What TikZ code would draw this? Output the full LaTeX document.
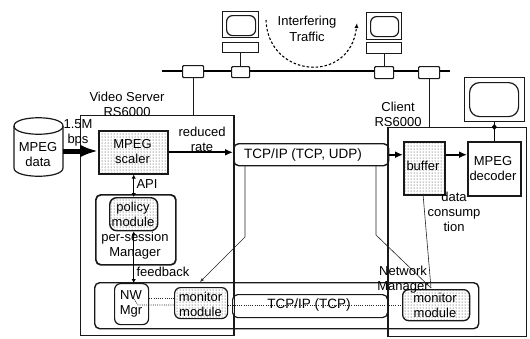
\documentclass[tikz,border=0pt]{standalone}
\usepackage{fontspec}
\setmainfont{Liberation Sans}
\usetikzlibrary{arrows.meta,calc,patterns}
\tikzset{
 x=1pt,y=-1pt,
 lbl/.style={inner sep=0pt,align=center,font=\fontsize{13}{15}\selectfont,text=black},
 plain/.style={draw=black!90,line width=1.2pt,inner sep=0pt,anchor=north west},
 rbox/.style={plain,rounded corners=5pt},
 dots/.style={pattern color=black!85},
 tap/.style={plain,fill=white,rounded corners=1pt},
 thin link/.style={draw=black!85,line width=.6pt},
 strong/.style={draw=black,line width=2pt,-{Latex[length=8pt,width=7pt]}},
 both/.style={draw=black,line width=1.3pt,{Latex[length=4pt,width=4.5pt]}-{Latex[length=4pt,width=4.5pt]}},
 dotted link/.style={draw=black!85,line width=.7pt,dash pattern=on 1pt off 1.2pt},
}
\newcommand{\bx}[6][plain]{\node[#1,minimum width=#4pt-#2pt,minimum height=#5pt-#3pt] (#6) at (#2,#3) {};}
\begin{document}
\begin{tikzpicture}
\useasboundingbox (0,0) rectangle (530,338);
% bus
\coordinate (busL) at (162,71); \coordinate (busR) at (450,71);
\draw[draw=black,line width=1.4pt] (busL) -- (busR);
\bx[tap]{182}{65}{203}{77}{t1}
\bx[tap]{231}{66}{249}{77}{t2}
\bx[tap]{374}{66}{393}{78}{t3}
\bx[tap]{418}{66}{439}{78}{t4}
% computers
\bx{222}{11}{258}{37}{m1}
\bx[rbox,rounded corners=6pt]{226}{15}{255}{35}{s1}
\bx{222}{42}{258}{52}{b1}
\bx{366}{12}{401}{39}{m2}
\bx[rbox,rounded corners=6pt]{370}{16}{398}{36}{s2}
\bx{366}{42}{401}{53}{b2}
\draw[plain] (b1.south) -- (t2.north);
\draw[plain] (b2.south) -- (t3.north);
\coordinate (arcA) at (266,20); \coordinate (arcB) at (357,23);
\draw[draw=black,line width=1.1pt,dash pattern=on 2.5pt off 2pt,-{Latex[length=5pt,width=4pt]}] (arcA) .. controls (268,78) and (350,85) .. (arcB);
\node[lbl] (traffic) at (307,29) {Interfering\\[1pt]Traffic};
% server + client
\bx{80}{115}{233}{335}{server}
\bx{388}{127}{526}{336}{client}
\draw[plain] (t1.south) -- (t1.south|-server.north);
\draw[plain] (t4.south) -- (t4.south|-client.north);
\node[lbl] (vs) at (127,104.5) {Video Server\\RS6000};
\node[lbl] (cl) at (398,114.5) {Client\\RS6000};
% display
\bx{464}{77}{524}{121}{disp}
\bx[rbox,rounded corners=10pt]{469}{82}{518}{116}{scr}
% cylinder
\coordinate (cylE) at (63,151);
\draw[draw=black!90,line width=1.2pt,fill=white] (14,126) .. controls (14,115) and (63,115) .. (63,126) -- (63,168) .. controls (63,179) and (14,179) .. (14,168) -- cycle;
\draw[draw=black!90,line width=1.2pt] (14,126) .. controls (14,137) and (63,137) .. (63,126);
\node[lbl] (cyllbl) at (38,155) {MPEG\\data};
% boxes
\bx[plain,line width=1.6pt,pattern=dots,dots]{98}{130}{167}{173}{scaler}
\bx[rbox,line width=1.7pt]{95}{194}{175}{264}{psm}
\bx[rbox,rounded corners=7pt,line width=1.4pt,pattern=dots,dots]{109}{197}{157}{230}{policy}
\bx[rbox,line width=1.4pt]{94}{282}{478}{328}{nm}
\bx[rbox,fill=white,rounded corners=6pt]{114}{283}{148}{324}{nw}
\bx[rbox,pattern=dots,dots,rounded corners=6pt]{174}{287}{227}{318}{mon1}
\bx[rbox,fill=white]{232}{294}{387}{317}{tcp2}
\bx[rbox,line width=1.4pt,fill=white]{233}{143}{388}{165}{tcp1}
\bx[plain,line width=1.6pt,pattern=dots,dots]{403}{141}{444}{194}{buffer}
\bx[plain,line width=1.6pt]{467}{141}{520}{195}{decoder}
\bx[rbox,rounded corners=6pt,pattern=dots,dots,line width=1.3pt]{402}{289}{469}{320}{mon2}
\draw[plain] (client.north west) -- (client.south west);
\draw[plain] (server.north east) -- (server.south east);
% connectors
\draw[draw=black,line width=5pt,-{Latex[length=18pt,width=13pt]}] (cylE) -- (scaler.west|-cylE);
\draw[strong] (scaler.east) -- (tcp1.west|-scaler.east);
\draw[strong] (tcp1.east) -- (tcp1.east-|buffer.west);
\draw[strong] (buffer.east|-tcp1.east) -- (decoder.west|-tcp1.east);
\draw[draw=black,line width=1.3pt] (decoder.north) -- (decoder.north|-disp.south);
\coordinate (junc) at (decoder.north|-client.north);
\fill[black] (junc) +(-2.5,0) -- +(0,-3) -- +(2.5,0) -- +(0,3) -- cycle;
\draw[both] (scaler.south-|policy.north) -- (policy.north);
\draw[both] (policy.south) -- (policy.south|-nw.north);
\coordinate (tA) at (245,165); \coordinate (tB) at (245,237); \coordinate (tC) at (200,282);
\draw[thin link,-{Latex[length=4pt,width=3pt]}] (tA) -- (tB) -- (tC);
\coordinate (uA) at (376,165); \coordinate (uB) at (376,235); \coordinate (uC) at (431,288);
\draw[thin link] (uA) -- (uB) -- (uC);
\coordinate (vA) at (423,194);
\draw[thin link] (vA) -- (uC);
\draw[dotted link] (nw.east|-0,298) -- (mon1.west|-0,298);
\draw[dotted link] (134,299) -- (138,305) -- (mon1.west|-0,305);
\draw[dotted link] (mon1.east|-0,305) -- (mon2.west|-0,305);
% labels
\node[lbl] at (78,133) {1.5M\\bps};
\node[lbl] at (132.5,152) {MPEG\\scaler};
\node[lbl] at (202,139) {reduced\\rate};
\node[lbl,font=\fontsize{13.5}{15}\selectfont] at (303,155) {TCP/IP (TCP, UDP)};
\node[lbl] at (147,184) {API};
\node[lbl] at (133,214) {policy\\module};
\node[lbl] at (135,246) {per-session\\Manager};
\node[lbl] at (163,272) {feedback};
\node[lbl] at (131,303.5) {NW\\Mgr};
\node[lbl] at (200.5,304) {monitor\\module};
\node[lbl,font=\fontsize{13.5}{15}\selectfont] at (309,305) {TCP/IP (TCP)};
\node[lbl] at (423,166) {buffer};
\node[lbl] at (493,169) {MPEG\\decoder};
\node[lbl] at (454,212) {data\\consump\\tion};
\node[lbl] at (403,279.5) {Network\\Manager};
\node[lbl] at (435,305) {monitor\\module};
\end{tikzpicture}
\end{document}
